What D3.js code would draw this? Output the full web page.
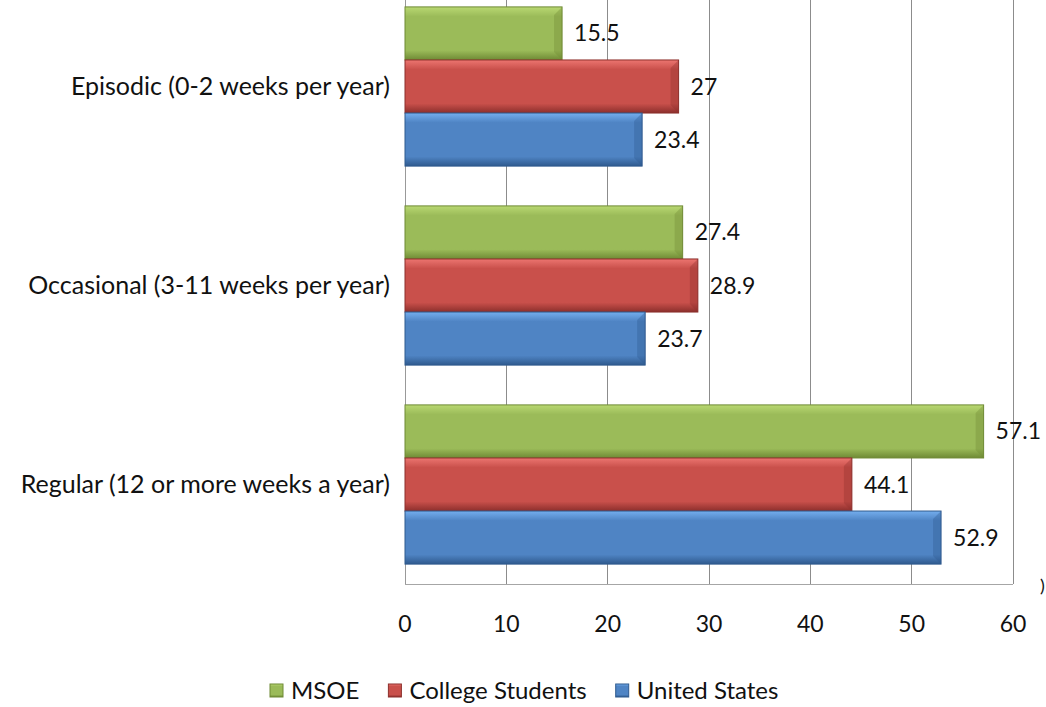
<!DOCTYPE html>
<html>
<head>
<meta charset="utf-8">
<script src="https://d3js.org/d3.v7.min.js"></script>
<style>
  body { margin: 0; background: #fff; }
  text { font-family: Lato, "Open Sans", sans-serif; fill: #111; }
</style>
</head>
<body>
<svg width="1046" height="707"></svg>
<script>

var categories = ["Episodic (0-2 weeks per year)", "Occasional (3-11 weeks per year)", "Regular (12 or more weeks a year)"];
var seriesNames = ["MSOE", "College Students", "United States"];
var msoe = [15.5, 27.4, 57.1];
var college = [27, 28.9, 44.1];
var us = [23.4, 23.7, 52.9];
var xTicks = [0, 10, 20, 30, 40, 50, 60];

var values = [msoe, college, us];
var colors = [
  { light: "#b9d872", mid: "#9bbb59", dark: "#6f8a35" },
  { light: "#ec7570", mid: "#c9504b", dark: "#8c2f2c" },
  { light: "#74aeee", mid: "#4f84c4", dark: "#2f5a8e" }
];

var svg = d3.select("svg");
var defs = svg.append("defs");
colors.forEach(function(c, i) {
  var g = defs.append("linearGradient").attr("id", "grad" + i)
    .attr("x1", 0).attr("y1", 0).attr("x2", 0).attr("y2", 1);
  g.append("stop").attr("offset", "0%").attr("stop-color", c.light);
  g.append("stop").attr("offset", "18%").attr("stop-color", c.mid);
  g.append("stop").attr("offset", "82%").attr("stop-color", c.mid);
  g.append("stop").attr("offset", "100%").attr("stop-color", c.dark);
});

var plotLeft = 405, plotRight = 1013, plotTop = -13, plotBottom = 584;

var x = d3.scaleLinear().domain([0, 60]).range([plotLeft, plotRight]);
var y = d3.scaleBand().domain(categories).range([plotTop, plotBottom]).paddingInner(0.2).paddingOuter(0.1);
var y1 = d3.scaleBand().domain(seriesNames).range([0, y.bandwidth()]);

// gridlines
svg.append("g").selectAll("line")
  .data(xTicks)
  .enter().append("line")
  .attr("x1", function(d) { return x(d); })
  .attr("x2", function(d) { return x(d); })
  .attr("y1", 0).attr("y2", plotBottom)
  .attr("stroke", function(d) { return d === 0 ? "#999" : "#8c8c8c"; })
  .attr("stroke-width", 1)
  .attr("shape-rendering", "crispEdges");

svg.append("line")
  .attr("x1", x(0)).attr("x2", x(60))
  .attr("y1", plotBottom).attr("y2", plotBottom)
  .attr("stroke", "#a6a6a6")
  .attr("shape-rendering", "crispEdges");

// bars
categories.forEach(function(cat, ci) {
  var grp = svg.append("g").attr("transform", "translate(0," + y(cat) + ")");
  seriesNames.forEach(function(s, si) {
    var v = values[si][ci];
    var by = y1(s), bh = y1.bandwidth(), bw = x(v) - x(0);
    grp.append("rect")
      .attr("x", x(0)).attr("y", by)
      .attr("width", bw).attr("height", bh)
      .attr("fill", "url(#grad" + si + ")")
      .attr("stroke", colors[si].dark).attr("stroke-width", 1);
    // bevel right end
    grp.append("polygon")
      .attr("points", [[x(v), by], [x(v) - 8, by + 8], [x(v) - 8, by + bh - 8], [x(v), by + bh]].join(" "))
      .attr("fill", colors[si].dark).attr("opacity", 0.35);
    grp.append("text")
      .attr("x", x(v) + 12).attr("y", by + bh / 2)
      .attr("dy", "0.35em")
      .style("font-size", "23px")
      .text(v);
  });
});

// category labels
svg.append("g").selectAll("text")
  .data(categories)
  .enter().append("text")
  .attr("x", 390)
  .attr("y", function(d) { return y(d) + y.bandwidth() / 2; })
  .attr("dy", "0.35em")
  .attr("text-anchor", "end")
  .style("font-size", "25px")
  .text(function(d) { return d; });

// x tick labels
svg.append("g").selectAll("text")
  .data(xTicks)
  .enter().append("text")
  .attr("x", function(d) { return x(d); })
  .attr("y", 632)
  .attr("text-anchor", "middle")
  .style("font-size", "23px")
  .text(function(d) { return d; });

svg.append("text").attr("x", 1040).attr("y", 592).style("font-size", "18px").text(")");

// legend
var leg = svg.append("g");
var lx = 270;
seriesNames.forEach(function(s, i) {
  leg.append("rect")
    .attr("x", lx).attr("y", 684)
    .attr("width", 13).attr("height", 13)
    .attr("fill", "url(#grad" + i + ")")
    .attr("stroke", colors[i].dark);
  var t = leg.append("text")
    .attr("x", lx + 21).attr("y", 699)
    .style("font-size", "24px")
    .text(s);
  lx += 21 + t.node().getComputedTextLength() + 29;
});

</script>
</body>
</html>
